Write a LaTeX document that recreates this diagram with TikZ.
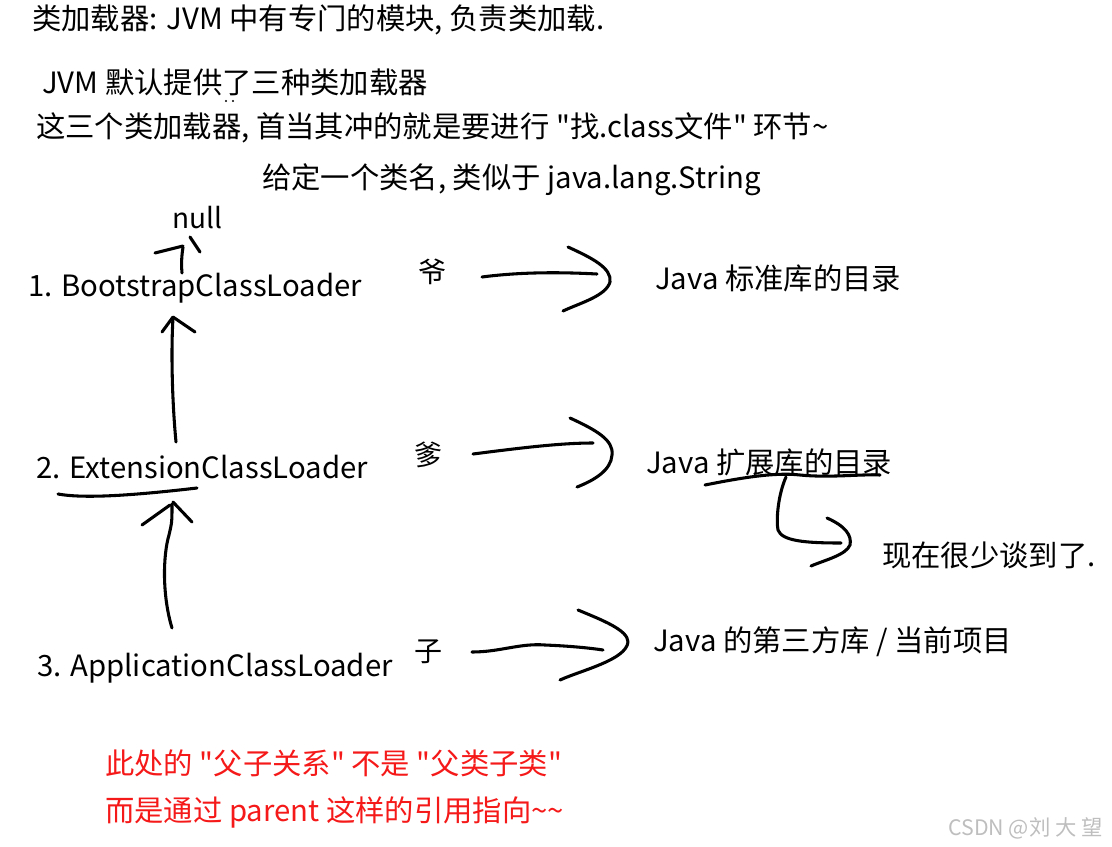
\documentclass[tikz,border=0pt]{standalone}
\usepackage{fontspec}
\setmainfont{Noto Sans CJK SC}[Ligatures=TeXOff]
\usepackage{xcolor}
\usetikzlibrary{calc,positioning}
\definecolor{notered}{RGB}{245,25,25}
\definecolor{markgray}{RGB}{190,190,190}

\begin{document}
\begin{tikzpicture}[x=0.75pt,y=-0.75pt,
    txt/.style={anchor=west,inner sep=0pt,font=\fontsize{22}{26}\selectfont},
    mid/.style={inner sep=0pt,font=\fontsize{21}{25}\selectfont},
    pen/.style={line width=2.3pt,line cap=round,line join=round}]
  \useasboundingbox (0,0) rectangle (1112,846);
  % heading text
  \node[txt] (title) at (32,20) {类加载器: JVM 中有专门的模块, 负责类加载.};
  \node[txt] (three) at (42,82) {JVM 默认提供了三种类加载器};
  \node[txt] (first) at (36,128) {这三个类加载器, 首当其冲的就是要进行 "找.class文件" 环节\textasciitilde};
  \node[txt] (given) at (262,180) {给定一个类名, 类似于 java.lang.String};
  \fill (226,101) circle (1.2);
  \fill (233,101) circle (1.2);
  % loaders
  \node[mid] (null) at (197,218) {null};
  \node[txt] (boot) at (28,288) {1. BootstrapClassLoader};
  \node[txt] (ext) at (36,467) {2. ExtensionClassLoader};
  \node[txt] (app) at (37,668) {3. ApplicationClassLoader};
  % family names
  \node[mid] (ye) at (432,272) {爷};
  \node[mid] (die) at (428,455) {爹};
  \node[mid] (zi) at (428,652) {子};
  % directories
  \node[txt] (stdlib) at (655,278) {Java 标准库的目录};
  \node[txt] (extlib) at (646,462) {Java 扩展库的目录};
  \node[txt] (rare) at (882,555) {现在很少谈到了.};
  \node[txt] (applib) at (653,642) {Java 的第三方库 / 当前项目};
  % red note
  \node[txt,text=notered] (note1) at (105,763) {此处的 "父子关系" 不是 "父类子类"};
  \node[txt,text=notered] (note2) at (105,812) {而是通过 parent 这样的引用指向\textasciitilde\textasciitilde};
  \node[txt,text=markgray,font=\fontsize{16}{18}\selectfont] (mark) at (948,828) {CSDN @刘 大 望};

  % boot -> null
  \draw[pen] (182,273) .. controls (181,262) and (182,254) .. (183,247);
  \draw[pen] (155,253) -- (183,246);
  \draw[pen] (190,237) -- (200,252);
  % ext -> boot
  \draw[pen] (176,442) .. controls (172,400) and (171,350) .. (173,318);
  \draw[pen] (162,332) -- (173,317) -- (195,332);
  % underline of ext
  \draw[pen] (58,494) .. controls (80,498) and (120,497) .. (197,488);
  % app -> ext
  \draw[pen] (172,628) .. controls (162,595) and (163,555) .. (169,535) .. controls (172,522) .. (172,504);
  \draw[pen] (142,525) -- (170,505);
  \draw[pen] (173,502) -- (192,522);
  % grandpa arrow
  \draw[pen] (482,277) .. controls (520,272) and (560,272) .. (597,274);
  \draw[pen] (568,247) .. controls (592,258) and (612,268) .. (610,282) .. controls (606,296) and (580,303) .. (563,311);
  % father arrow
  \draw[pen] (473,454) .. controls (520,448) and (560,443) .. (593,443);
  \draw[pen] (570,418) .. controls (596,430) and (614,440) .. (612,455) .. controls (611,470) and (595,480) .. (577,487);
  % underline and branch to rare
  \draw[pen] (705,485) .. controls (740,478) and (775,472) .. (800,475) .. controls (830,478) and (860,474) .. (880,475);
  \draw[pen] (786,477) .. controls (778,495) and (776,520) .. (778,530) .. controls (782,541) and (805,543) .. (841,543);
  \draw[pen] (827,518) .. controls (845,526) and (852,535) .. (850,545) .. controls (846,555) and (825,560) .. (811,566);
  % child arrow
  \draw[pen] (472,652) .. controls (500,652) and (520,643) .. (545,645) .. controls (570,646) and (590,648) .. (603,650);
  \draw[pen] (578,610) .. controls (602,620) and (628,630) .. (628,642) .. controls (626,660) and (582,670) .. (560,680);
\end{tikzpicture}
\end{document}
